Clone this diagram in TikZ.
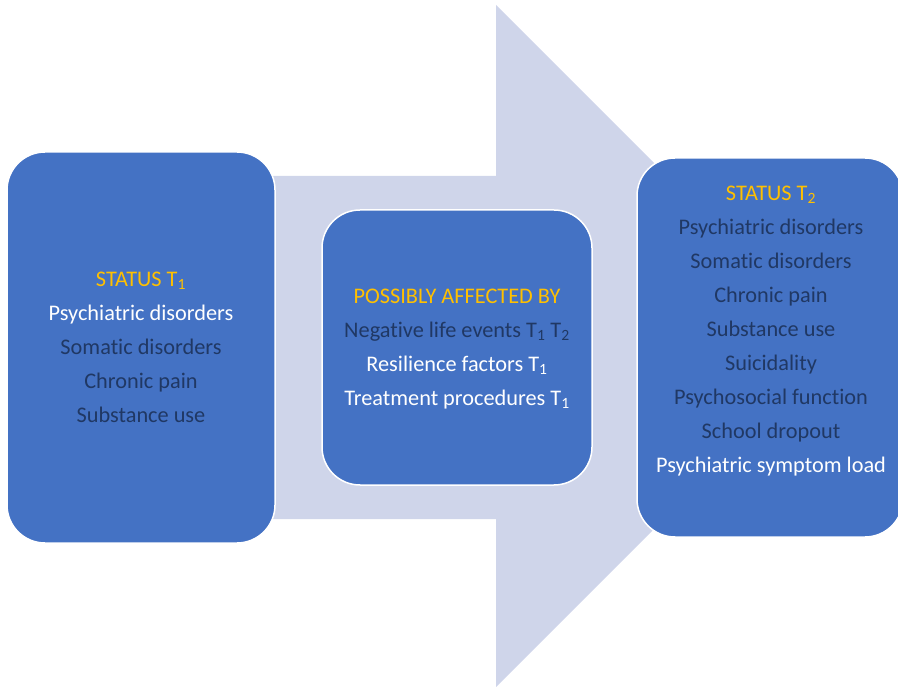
\documentclass[tikz,border=0pt]{standalone}
\usepackage{fontspec}
\setmainfont[Ligatures=NoCommon]{Carlito}
\definecolor{boxblue}{HTML}{4472C4}
\definecolor{arrowfill}{HTML}{CFD5EA}
\definecolor{gold}{HTML}{FFC000}
\definecolor{navy}{HTML}{203864}
\newcommand{\Tsub}[1]{T\textsubscript{#1}}
\begin{document}
\begin{tikzpicture}[x=1pt,y=-1pt,
  box/.style={draw=white, line width=1.5pt, fill=boxblue, rounded corners=38pt, inner sep=0pt, outer sep=0pt},
  lines/.style={align=center, font=\fontsize{22.3}{34}\selectfont, text=navy, inner sep=0pt}]
\useasboundingbox (0,0) rectangle (898,687);
% big arrow
\fill[arrowfill] (250,176) coordinate (s1) -- (496,176) -- (496,5) -- (837,346) coordinate (tip) -- (496,687) -- (496,519) -- (250,519) -- cycle;
% boxes
\node[box, minimum width=268pt, minimum height=391pt] (left) at (141,347.5) {};
\node[box, minimum width=270pt, minimum height=275pt] (mid) at (457,347.5) {};
\node[box, minimum width=266pt, minimum height=379pt] (right) at (770,347.5) {};
% texts
\node[lines] (lefttext) at (141,347) {{\color{gold}STATUS \Tsub{1}}\\
  {\color{white}Psychiatric disorders}\\
  Somatic disorders\\
  Chronic pain\\
  Substance use};
\node[lines] (midtext) at (457,349) {{\color{gold}POSSIBLY AFFECTED BY}\\
  Negative life events \Tsub{1} \Tsub{2}\\
  {\color{white}Resilience factors \Tsub{1}}\\
  {\color{white}Treatment procedures \Tsub{1}}};
\node[lines] (righttext) at (771,331) {{\color{gold}STATUS \Tsub{2}}\\
  Psychiatric disorders\\
  Somatic disorders\\
  Chronic pain\\
  Substance use\\
  Suicidality\\
  Psychosocial function\\
  School dropout\\
  {\color{white}Psychiatric symptom load}};
\end{tikzpicture}
\end{document}
